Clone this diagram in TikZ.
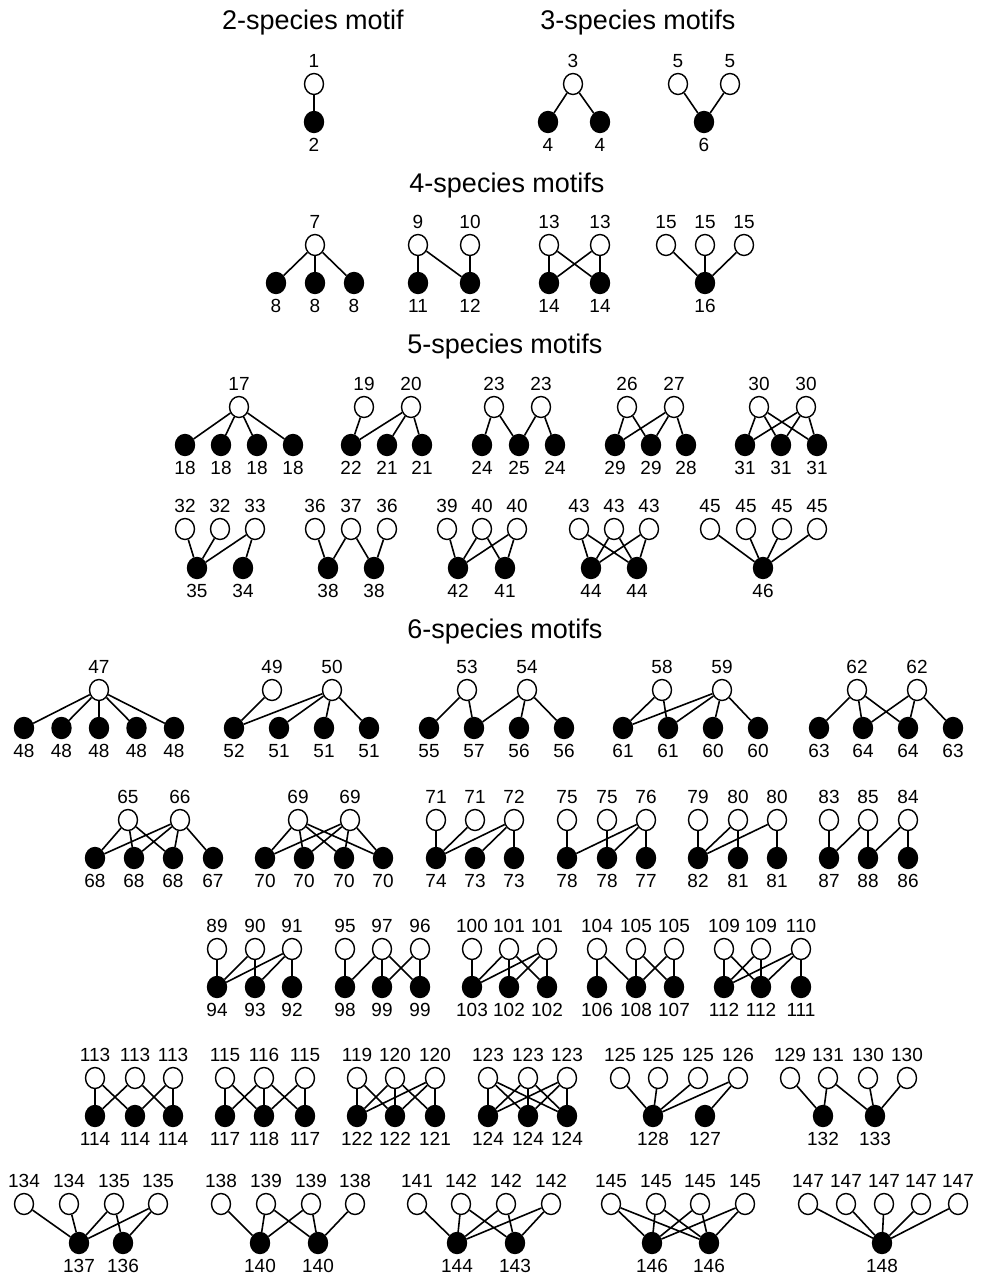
\documentclass[tikz,border=0pt]{standalone}
\usepackage{fontspec}
\setmainfont{Liberation Sans}
\usetikzlibrary{shapes.geometric}
\begin{document}
\begin{tikzpicture}[x=1pt,y=-1pt,every node/.style={font=\fontsize{19}{19}\selectfont},
  every label/.style={inner sep=0pt,text height=13.5pt,text depth=0pt},label distance=5pt,
  wn/.style={ellipse,draw,fill=white,line width=1.4pt,minimum width=19pt,minimum height=21pt,inner sep=0pt},
  bn/.style={wn,fill=black},
  link/.style={line width=1.6pt},
  title/.style={font=\fontsize{27}{27}\selectfont}]
\useasboundingbox (0,0) rectangle (993,1276);
\node[title] (t2) at (313,23) {2-species motif};
\node[title] (t3) at (638,23) {3-species motifs};
\node[title] (t4) at (507,186) {4-species motifs};
\node[title] (t5) at (505,347) {5-species motifs};
\node[title] (t6) at (505,632) {6-species motifs};
\node[wn,label=above:1] (n1) at (314,84) {};
\node[bn,label=below:2] (n2) at (314,122) {};
\draw[link] (n1) -- (n2);
\node[wn,label=above:3] (n3) at (573,84) {};
\node[bn,label=below:4] (n4a) at (548,122) {};
\node[bn,label=below:4] (n4b) at (600,122) {};
\draw[link] (n3) -- (n4a) (n3) -- (n4b);
\node[wn,label=above:5] (n5a) at (678,84) {};
\node[wn,label=above:5] (n5b) at (730,84) {};
\node[bn,label=below:6] (n6) at (704,122) {};
\draw[link] (n5a) -- (n6) (n5b) -- (n6);
\node[wn,label=above:7] (n7) at (315,245) {};
\node[bn,label=below:8] (n8a) at (276,283) {};
\node[bn,label=below:8] (n8b) at (315,283) {};
\node[bn,label=below:8] (n8c) at (354,283) {};
\draw[link] (n7) -- (n8a) (n7) -- (n8b) (n7) -- (n8c);
\node[wn,label=above:9] (n9) at (418,245) {};
\node[wn,label=above:10] (n10) at (470,245) {};
\node[bn,label=below:11] (n11) at (418,283) {};
\node[bn,label=below:12] (n12) at (470,283) {};
\draw[link] (n9) -- (n11) (n9) -- (n12) (n10) -- (n12);
\node[wn,label=above:13] (n13a) at (549,245) {};
\node[wn,label=above:13] (n13b) at (600,245) {};
\node[bn,label=below:14] (n14a) at (549,283) {};
\node[bn,label=below:14] (n14b) at (600,283) {};
\draw[link] (n13a) -- (n14a) (n13a) -- (n14b) (n13b) -- (n14a) (n13b) -- (n14b);
\node[wn,label=above:15] (n15a) at (666,245) {};
\node[wn,label=above:15] (n15b) at (705,245) {};
\node[wn,label=above:15] (n15c) at (744,245) {};
\node[bn,label=below:16] (n16) at (705,283) {};
\draw[link] (n15a) -- (n16) (n15b) -- (n16) (n15c) -- (n16);
\node[wn,label=above:17] (n17) at (239,407) {};
\node[bn,label=below:18] (n18a) at (185,445) {};
\node[bn,label=below:18] (n18b) at (221,445) {};
\node[bn,label=below:18] (n18c) at (257,445) {};
\node[bn,label=below:18] (n18d) at (293,445) {};
\draw[link] (n17) -- (n18a) (n17) -- (n18b) (n17) -- (n18c) (n17) -- (n18d);
\node[wn,label=above:19] (n19) at (364,407) {};
\node[wn,label=above:20] (n20) at (411,407) {};
\node[bn,label=below:22] (n22) at (351,445) {};
\node[bn,label=below:21] (n21a) at (387,445) {};
\node[bn,label=below:21] (n21b) at (422,445) {};
\draw[link] (n19) -- (n22) (n20) -- (n22) (n20) -- (n21a) (n20) -- (n21b);
\node[wn,label=above:23] (n23a) at (494,407) {};
\node[wn,label=above:23] (n23b) at (541,407) {};
\node[bn,label=below:24] (n24a) at (482,445) {};
\node[bn,label=below:25] (n25) at (519,445) {};
\node[bn,label=below:24] (n24b) at (555,445) {};
\draw[link] (n23a) -- (n24a) (n23a) -- (n25) (n23b) -- (n25) (n23b) -- (n24b);
\node[wn,label=above:26] (n26) at (627,407) {};
\node[wn,label=above:27] (n27) at (674,407) {};
\node[bn,label=below:29] (n29a) at (615,445) {};
\node[bn,label=below:29] (n29b) at (651,445) {};
\node[bn,label=below:28] (n28) at (686,445) {};
\draw[link] (n26) -- (n29a) (n26) -- (n29b) (n27) -- (n29a) (n27) -- (n29b) (n27) -- (n28);
\node[wn,label=above:30] (n30a) at (759,407) {};
\node[wn,label=above:30] (n30b) at (806,407) {};
\node[bn,label=below:31] (n31a) at (745,445) {};
\node[bn,label=below:31] (n31b) at (781,445) {};
\node[bn,label=below:31] (n31c) at (817,445) {};
\draw[link] (n30a) -- (n31a) (n30a) -- (n31b) (n30a) -- (n31c) (n30b) -- (n31a) (n30b) -- (n31b) (n30b) -- (n31c);
\node[wn,label=above:32] (n32a) at (185,529) {};
\node[wn,label=above:32] (n32b) at (220,529) {};
\node[wn,label=above:33] (n33) at (255,529) {};
\node[bn,label=below:35] (n35) at (197,568) {};
\node[bn,label=below:34] (n34) at (243,568) {};
\draw[link] (n32a) -- (n35) (n32b) -- (n35) (n33) -- (n35) (n33) -- (n34);
\node[wn,label=above:36] (n36a) at (315,529) {};
\node[wn,label=above:37] (n37) at (351,529) {};
\node[wn,label=above:36] (n36b) at (387,529) {};
\node[bn,label=below:38] (n38a) at (328,568) {};
\node[bn,label=below:38] (n38b) at (374,568) {};
\draw[link] (n36a) -- (n38a) (n37) -- (n38a) (n37) -- (n38b) (n36b) -- (n38b);
\node[wn,label=above:39] (n39) at (447,529) {};
\node[wn,label=above:40] (n40a) at (482,529) {};
\node[wn,label=above:40] (n40b) at (517,529) {};
\node[bn,label=below:42] (n42) at (458,568) {};
\node[bn,label=below:41] (n41) at (505,568) {};
\draw[link] (n39) -- (n42) (n40a) -- (n42) (n40a) -- (n41) (n40b) -- (n42) (n40b) -- (n41);
\node[wn,label=above:43] (n43a) at (579,529) {};
\node[wn,label=above:43] (n43b) at (614,529) {};
\node[wn,label=above:43] (n43c) at (649,529) {};
\node[bn,label=below:44] (n44a) at (591,568) {};
\node[bn,label=below:44] (n44b) at (637,568) {};
\draw[link] (n43a) -- (n44a) (n43a) -- (n44b) (n43b) -- (n44a) (n43b) -- (n44b) (n43c) -- (n44a) (n43c) -- (n44b);
\node[wn,label=above:45] (n45a) at (710,529) {};
\node[wn,label=above:45] (n45b) at (746,529) {};
\node[wn,label=above:45] (n45c) at (782,529) {};
\node[wn,label=above:45] (n45d) at (817,529) {};
\node[bn,label=below:46] (n46) at (763,568) {};
\draw[link] (n45a) -- (n46) (n45b) -- (n46) (n45c) -- (n46) (n45d) -- (n46);
\node[wn,label=above:47] (n47) at (99,690) {};
\node[bn,label=below:48] (n48a) at (24,728) {};
\node[bn,label=below:48] (n48b) at (61.5,728) {};
\node[bn,label=below:48] (n48c) at (99,728) {};
\node[bn,label=below:48] (n48d) at (136.5,728) {};
\node[bn,label=below:48] (n48e) at (174,728) {};
\draw[link] (n47) -- (n48a) (n47) -- (n48b) (n47) -- (n48c) (n47) -- (n48d) (n47) -- (n48e);
\node[wn,label=above:49] (n49) at (272,690) {};
\node[wn,label=above:50] (n50) at (332,690) {};
\node[bn,label=below:52] (n52) at (234,728) {};
\node[bn,label=below:51] (n51a) at (279,728) {};
\node[bn,label=below:51] (n51b) at (324,728) {};
\node[bn,label=below:51] (n51c) at (369,728) {};
\draw[link] (n49) -- (n52) (n50) -- (n52) (n50) -- (n51a) (n50) -- (n51b) (n50) -- (n51c);
\node[wn,label=above:53] (n53) at (467,690) {};
\node[wn,label=above:54] (n54) at (527,690) {};
\node[bn,label=below:55] (n55) at (429,728) {};
\node[bn,label=below:57] (n57) at (474,728) {};
\node[bn,label=below:56] (n56a) at (519,728) {};
\node[bn,label=below:56] (n56b) at (564,728) {};
\draw[link] (n53) -- (n55) (n53) -- (n57) (n54) -- (n57) (n54) -- (n56a) (n54) -- (n56b);
\node[wn,label=above:58] (n58) at (662,690) {};
\node[wn,label=above:59] (n59) at (722,690) {};
\node[bn,label=below:61] (n61a) at (623,728) {};
\node[bn,label=below:61] (n61b) at (668,728) {};
\node[bn,label=below:60] (n60a) at (713,728) {};
\node[bn,label=below:60] (n60b) at (758,728) {};
\draw[link] (n58) -- (n61a) (n58) -- (n61b) (n59) -- (n61a) (n59) -- (n61b) (n59) -- (n60a) (n59) -- (n60b);
\node[wn,label=above:62] (n62a) at (857,690) {};
\node[wn,label=above:62] (n62b) at (917,690) {};
\node[bn,label=below:63] (n63a) at (819,728) {};
\node[bn,label=below:64] (n64a) at (863,728) {};
\node[bn,label=below:64] (n64b) at (908,728) {};
\node[bn,label=below:63] (n63b) at (953,728) {};
\draw[link] (n62a) -- (n63a) (n62a) -- (n64a) (n62a) -- (n64b) (n62b) -- (n64a) (n62b) -- (n64b) (n62b) -- (n63b);
\node[wn,label=above:65] (n65) at (128,820) {};
\node[wn,label=above:66] (n66) at (180,820) {};
\node[bn,label=below:68] (n68a) at (95,858) {};
\node[bn,label=below:68] (n68b) at (134,858) {};
\node[bn,label=below:68] (n68c) at (173,858) {};
\node[bn,label=below:67] (n67) at (213,858) {};
\draw[link] (n65) -- (n68a) (n65) -- (n68b) (n65) -- (n68c) (n66) -- (n68a) (n66) -- (n68b) (n66) -- (n68c) (n66) -- (n67);
\node[wn,label=above:69] (n69a) at (298,820) {};
\node[wn,label=above:69] (n69b) at (350,820) {};
\node[bn,label=below:70] (n70a) at (265,858) {};
\node[bn,label=below:70] (n70b) at (304,858) {};
\node[bn,label=below:70] (n70c) at (344,858) {};
\node[bn,label=below:70] (n70d) at (383,858) {};
\draw[link] (n69a) -- (n70a) (n69a) -- (n70b) (n69a) -- (n70c) (n69a) -- (n70d) (n69b) -- (n70a) (n69b) -- (n70b) (n69b) -- (n70c) (n69b) -- (n70d);
\node[wn,label=above:71] (n71a) at (436,820) {};
\node[wn,label=above:71] (n71b) at (475,820) {};
\node[wn,label=above:72] (n72) at (514,820) {};
\node[bn,label=below:74] (n74) at (436,858) {};
\node[bn,label=below:73] (n73a) at (475,858) {};
\node[bn,label=below:73] (n73b) at (514,858) {};
\draw[link] (n71a) -- (n74) (n71b) -- (n74) (n72) -- (n74) (n72) -- (n73a) (n72) -- (n73b);
\node[wn,label=above:75] (n75a) at (567,820) {};
\node[wn,label=above:75] (n75b) at (607,820) {};
\node[wn,label=above:76] (n76) at (646,820) {};
\node[bn,label=below:78] (n78a) at (567,858) {};
\node[bn,label=below:78] (n78b) at (607,858) {};
\node[bn,label=below:77] (n77) at (646,858) {};
\draw[link] (n75a) -- (n78a) (n75b) -- (n78b) (n76) -- (n78a) (n76) -- (n78b) (n76) -- (n77);
\node[wn,label=above:79] (n79) at (698,820) {};
\node[wn,label=above:80] (n80a) at (738,820) {};
\node[wn,label=above:80] (n80b) at (777,820) {};
\node[bn,label=below:82] (n82) at (698,858) {};
\node[bn,label=below:81] (n81a) at (738,858) {};
\node[bn,label=below:81] (n81b) at (777,858) {};
\draw[link] (n79) -- (n82) (n80a) -- (n82) (n80a) -- (n81a) (n80b) -- (n82) (n80b) -- (n81b);
\node[wn,label=above:83] (n83) at (829,820) {};
\node[wn,label=above:85] (n85) at (868,820) {};
\node[wn,label=above:84] (n84) at (908,820) {};
\node[bn,label=below:87] (n87) at (829,858) {};
\node[bn,label=below:88] (n88) at (868,858) {};
\node[bn,label=below:86] (n86) at (908,858) {};
\draw[link] (n83) -- (n87) (n85) -- (n87) (n85) -- (n88) (n84) -- (n88) (n84) -- (n86);
\node[wn,label=above:89] (n89) at (217,949) {};
\node[wn,label=above:90] (n90) at (255,949) {};
\node[wn,label=above:91] (n91) at (292,949) {};
\node[bn,label=below:94] (n94) at (217,987) {};
\node[bn,label=below:93] (n93) at (255,987) {};
\node[bn,label=below:92] (n92) at (292,987) {};
\draw[link] (n89) -- (n94) (n90) -- (n94) (n90) -- (n93) (n91) -- (n94) (n91) -- (n93) (n91) -- (n92);
\node[wn,label=above:95] (n95) at (345,949) {};
\node[wn,label=above:97] (n97) at (382,949) {};
\node[wn,label=above:96] (n96) at (420,949) {};
\node[bn,label=below:98] (n98) at (345,987) {};
\node[bn,label=below:99] (n99a) at (382,987) {};
\node[bn,label=below:99] (n99b) at (420,987) {};
\draw[link] (n95) -- (n98) (n97) -- (n98) (n97) -- (n99a) (n97) -- (n99b) (n96) -- (n99a) (n96) -- (n99b);
\node[wn,label=above:100] (n100) at (472,949) {};
\node[wn,label=above:101] (n101a) at (509,949) {};
\node[wn,label=above:101] (n101b) at (547,949) {};
\node[bn,label=below:103] (n103) at (472,987) {};
\node[bn,label=below:102] (n102a) at (509,987) {};
\node[bn,label=below:102] (n102b) at (547,987) {};
\draw[link] (n100) -- (n103) (n101a) -- (n103) (n101a) -- (n102a) (n101a) -- (n102b) (n101b) -- (n103) (n101b) -- (n102a) (n101b) -- (n102b);
\node[wn,label=above:104] (n104) at (597,949) {};
\node[wn,label=above:105] (n105a) at (636,949) {};
\node[wn,label=above:105] (n105b) at (674,949) {};
\node[bn,label=below:106] (n106) at (597,987) {};
\node[bn,label=below:108] (n108) at (636,987) {};
\node[bn,label=below:107] (n107) at (674,987) {};
\draw[link] (n104) -- (n106) (n104) -- (n108) (n105a) -- (n108) (n105a) -- (n107) (n105b) -- (n108) (n105b) -- (n107);
\node[wn,label=above:109] (n109a) at (724,949) {};
\node[wn,label=above:109] (n109b) at (761,949) {};
\node[wn,label=above:110] (n110) at (801,949) {};
\node[bn,label=below:112] (n112a) at (724,987) {};
\node[bn,label=below:112] (n112b) at (761,987) {};
\node[bn,label=below:111] (n111) at (801,987) {};
\draw[link] (n109a) -- (n112a) (n109a) -- (n112b) (n109b) -- (n112a) (n109b) -- (n112b) (n110) -- (n112a) (n110) -- (n112b) (n110) -- (n111);
\node[wn,label=above:113] (n113a) at (95,1078) {};
\node[wn,label=above:113] (n113b) at (135,1078) {};
\node[wn,label=above:113] (n113c) at (173,1078) {};
\node[bn,label=below:114] (n114a) at (95,1116) {};
\node[bn,label=below:114] (n114b) at (135,1116) {};
\node[bn,label=below:114] (n114c) at (173,1116) {};
\draw[link] (n113a) -- (n114a) (n113a) -- (n114b) (n113b) -- (n114a) (n113b) -- (n114c) (n113c) -- (n114b) (n113c) -- (n114c);
\node[wn,label=above:115] (n115a) at (225,1078) {};
\node[wn,label=above:116] (n116) at (264,1078) {};
\node[wn,label=above:115] (n115b) at (305,1078) {};
\node[bn,label=below:117] (n117a) at (225,1116) {};
\node[bn,label=below:118] (n118) at (264,1116) {};
\node[bn,label=below:117] (n117b) at (305,1116) {};
\draw[link] (n115a) -- (n117a) (n115a) -- (n118) (n116) -- (n117a) (n116) -- (n118) (n116) -- (n117b) (n115b) -- (n118) (n115b) -- (n117b);
\node[wn,label=above:119] (n119) at (357,1078) {};
\node[wn,label=above:120] (n120a) at (395,1078) {};
\node[wn,label=above:120] (n120b) at (435,1078) {};
\node[bn,label=below:122] (n122a) at (357,1116) {};
\node[bn,label=below:122] (n122b) at (395,1116) {};
\node[bn,label=below:121] (n121) at (435,1116) {};
\draw[link] (n119) -- (n122a) (n119) -- (n122b) (n120a) -- (n122a) (n120a) -- (n122b) (n120a) -- (n121) (n120b) -- (n122a) (n120b) -- (n122b) (n120b) -- (n121);
\node[wn,label=above:123] (n123a) at (488,1078) {};
\node[wn,label=above:123] (n123b) at (528,1078) {};
\node[wn,label=above:123] (n123c) at (567,1078) {};
\node[bn,label=below:124] (n124a) at (488,1116) {};
\node[bn,label=below:124] (n124b) at (528,1116) {};
\node[bn,label=below:124] (n124c) at (567,1116) {};
\draw[link] (n123a) -- (n124a) (n123a) -- (n124b) (n123a) -- (n124c) (n123b) -- (n124a) (n123b) -- (n124b) (n123b) -- (n124c) (n123c) -- (n124a) (n123c) -- (n124b) (n123c) -- (n124c);
\node[wn,label=above:125] (n125a) at (620,1078) {};
\node[wn,label=above:125] (n125b) at (658,1078) {};
\node[wn,label=above:125] (n125c) at (698,1078) {};
\node[wn,label=above:126] (n126) at (738,1078) {};
\node[bn,label=below:128] (n128) at (653,1116) {};
\node[bn,label=below:127] (n127) at (705,1116) {};
\draw[link] (n125a) -- (n128) (n125b) -- (n128) (n125c) -- (n128) (n126) -- (n128) (n126) -- (n127);
\node[wn,label=above:129] (n129) at (790,1078) {};
\node[wn,label=above:131] (n131) at (828,1078) {};
\node[wn,label=above:130] (n130a) at (868,1078) {};
\node[wn,label=above:130] (n130b) at (907,1078) {};
\node[bn,label=below:132] (n132) at (823,1116) {};
\node[bn,label=below:133] (n133) at (875,1116) {};
\draw[link] (n129) -- (n132) (n131) -- (n132) (n131) -- (n133) (n130a) -- (n133) (n130b) -- (n133);
\node[wn,label=above:134] (n134a) at (24,1204) {};
\node[wn,label=above:134] (n134b) at (69,1204) {};
\node[wn,label=above:135] (n135a) at (114,1204) {};
\node[wn,label=above:135] (n135b) at (158,1204) {};
\node[bn,label=below:137] (n137) at (79,1243) {};
\node[bn,label=below:136] (n136) at (123,1243) {};
\draw[link] (n134a) -- (n137) (n134b) -- (n137) (n135a) -- (n137) (n135a) -- (n136) (n135b) -- (n137) (n135b) -- (n136);
\node[wn,label=above:138] (n138a) at (221,1204) {};
\node[wn,label=above:139] (n139a) at (266,1204) {};
\node[wn,label=above:139] (n139b) at (311,1204) {};
\node[wn,label=above:138] (n138b) at (355,1204) {};
\node[bn,label=below:140] (n140a) at (260,1243) {};
\node[bn,label=below:140] (n140b) at (318,1243) {};
\draw[link] (n138a) -- (n140a) (n139a) -- (n140a) (n139a) -- (n140b) (n139b) -- (n140a) (n139b) -- (n140b) (n138b) -- (n140b);
\node[wn,label=above:141] (n141) at (417,1204) {};
\node[wn,label=above:142] (n142a) at (461,1204) {};
\node[wn,label=above:142] (n142b) at (506,1204) {};
\node[wn,label=above:142] (n142c) at (551,1204) {};
\node[bn,label=below:144] (n144) at (457,1243) {};
\node[bn,label=below:143] (n143) at (515,1243) {};
\draw[link] (n141) -- (n144) (n142a) -- (n144) (n142a) -- (n143) (n142b) -- (n144) (n142b) -- (n143) (n142c) -- (n144) (n142c) -- (n143);
\node[wn,label=above:145] (n145a) at (611,1204) {};
\node[wn,label=above:145] (n145b) at (656,1204) {};
\node[wn,label=above:145] (n145c) at (700,1204) {};
\node[wn,label=above:145] (n145d) at (745,1204) {};
\node[bn,label=below:146] (n146a) at (652,1243) {};
\node[bn,label=below:146] (n146b) at (709,1243) {};
\draw[link] (n145a) -- (n146a) (n145a) -- (n146b) (n145b) -- (n146a) (n145b) -- (n146b) (n145c) -- (n146a) (n145c) -- (n146b) (n145d) -- (n146a) (n145d) -- (n146b);
\node[wn,label=above:147] (n147a) at (808,1204) {};
\node[wn,label=above:147] (n147b) at (846,1204) {};
\node[wn,label=above:147] (n147c) at (884,1204) {};
\node[wn,label=above:147] (n147d) at (921,1204) {};
\node[wn,label=above:147] (n147e) at (958,1204) {};
\node[bn,label=below:148] (n148) at (882,1243) {};
\draw[link] (n147a) -- (n148) (n147b) -- (n148) (n147c) -- (n148) (n147d) -- (n148) (n147e) -- (n148);
\end{tikzpicture}
\end{document}
